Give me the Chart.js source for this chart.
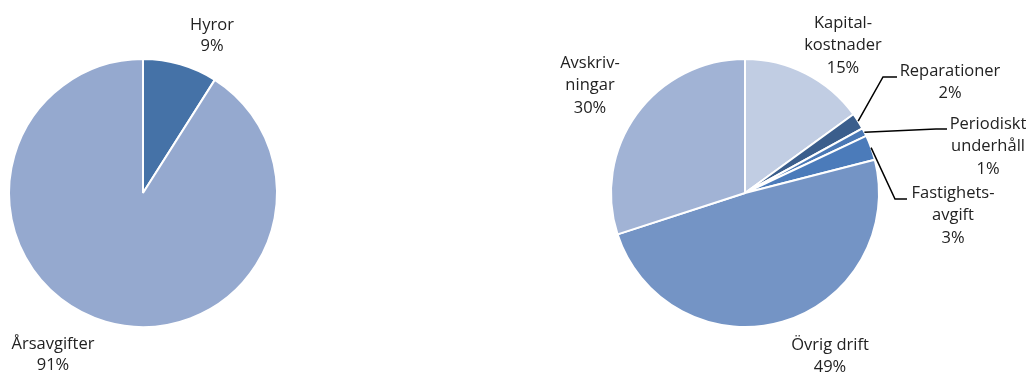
<!DOCTYPE html>
<html>
<head>
<meta charset="utf-8">
<script src="https://cdn.jsdelivr.net/npm/chart.js@4.4.1/dist/chart.umd.min.js"></script>
<style>
  html, body { margin: 0; padding: 0; background: #fff; }
  #wrap { position: relative; width: 1029px; height: 372px; }
  canvas { position: absolute; top: 0; }
</style>
</head>
<body>
<div id="wrap">
  <canvas id="income" width="400" height="372" style="left:0"></canvas>
  <canvas id="costs" width="629" height="372" style="left:400px"></canvas>
</div>
<script>
// income side
const incomeCategories = ['Hyror', 'Årsavgifter'];
const incomeValues = [9, 91];
const incomeColors = ['#4572a7', '#95a9cf'];

// cost side
const costCategories = ['Kapital-\nkostnader', 'Reparationer', 'Periodiskt\nunderhåll', 'Fastighets-\navgift', 'Övrig drift', 'Avskriv-\nningar'];
const costValues = [15, 2, 1, 3, 49, 30];
const costColors = ['#c1cde3', '#3b5e8c', '#4a78b5', '#4b7bba', '#7494c5', '#a1b3d5'];

// label placement relative to the pie centre; leader = optional elbow + end points
const incomeLabelPos = [
  { dx: 69, dy: -168 },
  { dx: -90, dy: 151 }
];
const costLabelPos = [
  { dx: 98, dy: -170 },
  { dx: 205, dy: -122, leader: [[138, -116], [152, -116]] },
  { dx: 243, dy: -69, leader: [[191, -64], [202, -64]] },
  { dx: 208, dy: 0, leader: [[150, 6], [162, 6]] },
  { dx: 85, dy: 152 },
  { dx: -155, dy: -130 }
];

const labelPlugin = {
  id: 'sliceLabels',
  afterDraw(chart, args, opts) {
    const ctx = chart.ctx;
    const meta = chart.getDatasetMeta(0);
    const values = chart.data.datasets[0].data;
    ctx.save();
    ctx.font = '16.5px "Open Sans", "Noto Sans", sans-serif';
    ctx.fillStyle = '#222';
    ctx.textAlign = 'center';
    ctx.textBaseline = 'middle';
    ctx.strokeStyle = '#000';
    ctx.lineWidth = 1.5;
    meta.data.forEach((arc, i) => {
      const pos = opts.positions[i];
      const cx = arc.x, cy = arc.y;
      const lines = chart.data.labels[i].split('\n').concat([values[i] + '%']);
      lines.forEach((t, k) => {
        ctx.fillText(t, cx + pos.dx, cy + pos.dy + k * opts.lineHeight);
      });
      if (pos.leader) {
        const mid = (arc.startAngle + arc.endAngle) / 2;
        const r = arc.outerRadius;
        ctx.beginPath();
        ctx.moveTo(cx + Math.cos(mid) * r, cy + Math.sin(mid) * r);
        pos.leader.forEach(p => ctx.lineTo(cx + p[0], cy + p[1]));
        ctx.stroke();
      }
    });
    ctx.restore();
  }
};

function makePie(id, labels, values, colors, padding, positions, lineHeight) {
  return new Chart(document.getElementById(id), {
    type: 'pie',
    data: {
      labels: labels,
      datasets: [{
        data: values,
        backgroundColor: colors,
        borderColor: '#ffffff',
        borderWidth: 2
      }]
    },
    options: {
      responsive: false,
      animation: false,
      layout: { padding: padding },
      plugins: {
        legend: { display: false },
        tooltip: { enabled: false },
        sliceLabels: { positions: positions, lineHeight: lineHeight }
      }
    },
    plugins: [labelPlugin]
  });
}

makePie('income', incomeCategories, incomeValues, incomeColors,
  { left: 8, top: 58, right: 122, bottom: 44 }, incomeLabelPos, 21.5);
makePie('costs', costCategories, costValues, costColors,
  { left: 210, top: 58, right: 149, bottom: 44 }, costLabelPos, 22.5);
</script>
</body>
</html>
